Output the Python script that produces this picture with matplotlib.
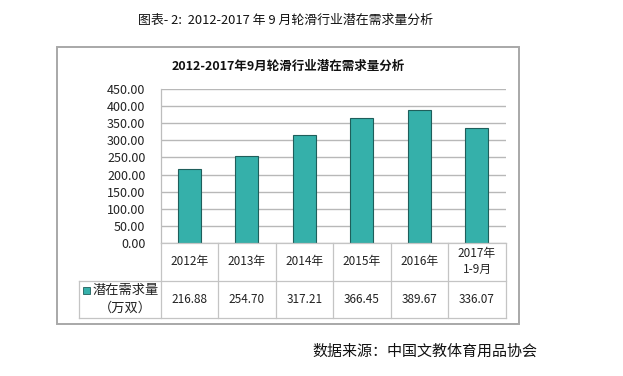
import matplotlib
matplotlib.use("Agg")
import matplotlib.pyplot as plt
from matplotlib.patches import Rectangle
from matplotlib.lines import Line2D

plt.rcParams['font.family'] = ['Noto Sans CJK SC', 'DejaVu Sans']

categories = ["2012年", "2013年", "2014年", "2015年", "2016年", "2017年\n1-9月"]
values = [216.88, 254.70, 317.21, 366.45, 389.67, 336.07]
value_labels = ["216.88", "254.70", "317.21", "366.45", "389.67", "336.07"]
series_name = "潜在需求量\n（万双）"
yticks = [0, 50, 100, 150, 200, 250, 300, 350, 400, 450]

W, H = 623, 376
fig = plt.figure(figsize=(W / 100, H / 100), dpi=100)
fig.patch.set_facecolor("white")

def fx(px):
    return px / W

def fy(py):
    return 1 - py / H

# plot area
L, R, T, B = 160.7, 505.7, 89.3, 242.7
ax = fig.add_axes([fx(L), fy(B), fx(R) - fx(L), fy(T) - fy(B)])
n = len(categories)
x = list(range(n))
ax.bar(x, values, width=0.4, color="#35B0AA", edgecolor="#1F5E5B", linewidth=0.8, zorder=3)
ax.set_xlim(-0.5, n - 0.5)
ax.set_ylim(0, 450)
ax.set_yticks(yticks)
ax.set_yticklabels([f"{v:.2f}" for v in yticks], fontsize=9, color="#222222")
ax.set_xticks([])
ax.yaxis.grid(True, color="#B8B8B8", linewidth=1.0, zorder=0)
for s in ["top", "right", "bottom"]:
    ax.spines[s].set_visible(False)
ax.spines["left"].set_color("#BDBDBD")
ax.spines["left"].set_linewidth(0.9)
ax.tick_params(axis="y", length=0, pad=11)

# outer frame
fig.add_artist(Rectangle((fx(56.7), fy(324)), fx(519) - fx(56.7), fy(47) - fy(324),
                         transform=fig.transFigure, fill=False, edgecolor="#A8A8A8", linewidth=1.4))

# table
gc = "#C4C4C4"
TL = 79.0
row1_top, row1_bot, row2_bot = B, 280.7, 318.0
colw = (R - L) / n

def hline(x0, x1, y):
    fig.add_artist(Line2D([fx(x0), fx(x1)], [fy(y), fy(y)], transform=fig.transFigure, color=gc, linewidth=0.9))

def vline(xp, y0, y1):
    fig.add_artist(Line2D([fx(xp), fx(xp)], [fy(y0), fy(y1)], transform=fig.transFigure, color=gc, linewidth=0.9))

hline(L, R, row1_top)
hline(TL, R, row1_bot)
hline(TL, R, row2_bot)
for i in range(n + 1):
    vline(L + i * colw, row1_top, row2_bot)
vline(TL, row1_bot, row2_bot)

for i in range(n):
    cx = L + (i + 0.5) * colw
    fig.text(fx(cx), fy((row1_top + row1_bot) / 2), categories[i], ha="center", va="center",
             fontsize=8.5, color="#222222", linespacing=1.3)
    fig.text(fx(cx), fy((row1_bot + row2_bot) / 2), value_labels[i], ha="center", va="center",
             fontsize=8.5, color="#222222")

# legend key in row header
fig.add_artist(Rectangle((fx(83), fy(293.5)), fx(90) - fx(83), fy(286.5) - fy(293.5),
                         transform=fig.transFigure, facecolor="#35B0AA", edgecolor="#1F5E5B", linewidth=0.6))
fig.text(fx(93), fy(290), "潜在需求量", ha="left", va="center", fontsize=9.5, color="#222222")
fig.text(fx(125), fy(308.5), "（万双）", ha="center", va="center", fontsize=9.5, color="#222222")

# chart title
fig.text(fx(288), fy(66), "2012-2017年9月轮滑行业潜在需求量分析", ha="center", va="center",
         fontsize=9, fontweight="bold", color="#111111")

# top caption
fig.text(fx(285), fy(20), "图表- 2:  2012-2017 年 9 月轮滑行业潜在需求量分析", ha="center", va="center",
         fontsize=9.3, color="#111111")

# source
fig.text(fx(425), fy(352), "数据来源：中国文教体育用品协会", ha="center", va="center",
         fontsize=10.8, color="#111111")

fig.savefig("out.png", dpi=100, facecolor="white")
